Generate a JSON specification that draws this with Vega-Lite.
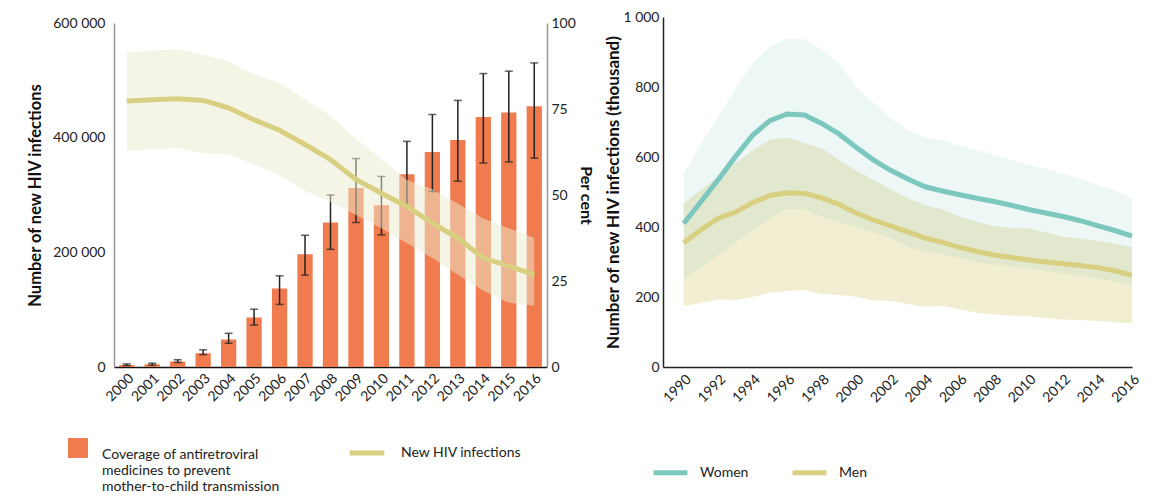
{
  "$schema": "https://vega.github.io/schema/vega-lite/v6.json",
  "background": "white",
  "padding": {"left": 27, "top": 10, "right": 10, "bottom": 0},
  "spacing": 10,
  "resolve": {"legend": {"color": "independent", "fill": "independent", "stroke": "independent"}},
  "config": {
    "font": "Lato",
    "view": {"stroke": null},
    "axis": {"labelFont": "Lato", "labelFontSize": 14, "labelColor": "#222", "titleFont": "Lato", "titleFontSize": 16.5, "titleFontWeight": "bold", "titleColor": "#111", "grid": false, "ticks": false, "domainColor": "#333", "domainWidth": 1.5},
    "legend": {"labelFont": "Lato", "labelFontSize": 14, "labelColor": "#222"}
  },
  "hconcat": [
    {
      "width": 433,
      "height": 350,
      "data": {"values": [
        {"year": "2000", "cov": 0.6, "cov_lo": 0.4, "cov_hi": 0.9, "inf": 464000, "inf_lo": 377000, "inf_hi": 548000},
        {"year": "2001", "cov": 0.8, "cov_lo": 0.5, "cov_hi": 1.1, "inf": 466000, "inf_lo": 380000, "inf_hi": 552000},
        {"year": "2002", "cov": 1.6, "cov_lo": 1.3, "cov_hi": 2.1, "inf": 468000, "inf_lo": 382000, "inf_hi": 554000},
        {"year": "2003", "cov": 4, "cov_lo": 3.6, "cov_hi": 5, "inf": 465000, "inf_lo": 373000, "inf_hi": 545000},
        {"year": "2004", "cov": 8, "cov_lo": 6.9, "cov_hi": 9.8, "inf": 452000, "inf_lo": 371000, "inf_hi": 533000},
        {"year": "2005", "cov": 14.4, "cov_lo": 12.2, "cov_hi": 16.8, "inf": 431000, "inf_lo": 353000, "inf_hi": 510000},
        {"year": "2006", "cov": 22.8, "cov_lo": 18.2, "cov_hi": 26.5, "inf": 413000, "inf_lo": 334000, "inf_hi": 496000},
        {"year": "2007", "cov": 32.8, "cov_lo": 26.7, "cov_hi": 38.3, "inf": 388000, "inf_lo": 308000, "inf_hi": 467000},
        {"year": "2008", "cov": 42, "cov_lo": 34.2, "cov_hi": 50, "inf": 362000, "inf_lo": 288000, "inf_hi": 438000},
        {"year": "2009", "cov": 52, "cov_lo": 42, "cov_hi": 60.6, "inf": 327000, "inf_lo": 265000, "inf_hi": 398000},
        {"year": "2010", "cov": 47, "cov_lo": 38.4, "cov_hi": 55.4, "inf": 303000, "inf_lo": 242000, "inf_hi": 363000},
        {"year": "2011", "cov": 56, "cov_lo": 46.7, "cov_hi": 65.6, "inf": 280000, "inf_lo": 216000, "inf_hi": 326000},
        {"year": "2012", "cov": 62.5, "cov_lo": 51, "cov_hi": 73.4, "inf": 251000, "inf_lo": 190000, "inf_hi": 310000},
        {"year": "2013", "cov": 66, "cov_lo": 54, "cov_hi": 77.5, "inf": 225000, "inf_lo": 161000, "inf_hi": 285000},
        {"year": "2014", "cov": 72.7, "cov_lo": 59.3, "cov_hi": 85.3, "inf": 190000, "inf_lo": 133000, "inf_hi": 259000},
        {"year": "2015", "cov": 74, "cov_lo": 59.6, "cov_hi": 86, "inf": 176000, "inf_lo": 112000, "inf_hi": 242000},
        {"year": "2016", "cov": 75.8, "cov_lo": 60.7, "cov_hi": 88.4, "inf": 161000, "inf_lo": 107000, "inf_hi": 225000}
      ]},
      "encoding": {
        "x": {"field": "year", "type": "ordinal", "scale": {"paddingInner": 0.4, "paddingOuter": 0.2},
              "axis": {"title": null, "labelAngle": -45, "domainColor": "#111", "labelPadding": 4}}
      },
      "layer": [
        {
          "layer": [
            {
              "mark": {"type": "bar", "color": "#f07b4f"},
              "encoding": {
                "y": {"field": "cov", "type": "quantitative", "title": "Per cent", "scale": {"domain": [0, 100], "range": [350, 6]},
                      "axis": {"orient": "right", "titleAngle": 90, "titleFontSize": 16, "values": [0, 25, 50, 75, 100], "domainColor": "#999", "labelPadding": 4, "titlePadding": 2}},
                "fill": {"datum": "Coverage of antiretroviral|medicines to prevent|mother-to-child transmission", "type": "nominal",
                         "scale": {"range": ["#f07b4f"]},
                         "legend": {"orient": "none", "legendX": -46, "legendY": 421, "title": null, "symbolType": "square", "symbolSize": 400, "symbolStrokeWidth": 0, "labelExpr": "split(datum.label, '|')", "labelBaseline": "top", "labelOffset": 14, "labelLimit": 400}}
              }
            },
            {
              "mark": {"type": "rule", "color": "#222", "strokeWidth": 1.5},
              "encoding": {"y": {"field": "cov_lo", "type": "quantitative", "title": "Per cent"}, "y2": {"field": "cov_hi"}}
            },
            {
              "mark": {"type": "tick", "color": "#222", "thickness": 1.5, "size": 8},
              "encoding": {"y": {"field": "cov_lo", "type": "quantitative", "title": "Per cent"}}
            },
            {
              "mark": {"type": "tick", "color": "#222", "thickness": 1.5, "size": 8},
              "encoding": {"y": {"field": "cov_hi", "type": "quantitative", "title": "Per cent"}}
            }
          ]
        },
        {
          "layer": [
            {
              "mark": {"type": "area", "color": "#ecebd0", "opacity": 0.5},
              "encoding": {
                "y": {"field": "inf_lo", "type": "quantitative", "title": "Number of new HIV infections", "scale": {"domain": [0, 600000], "range": [350, 6]},
                      "axis": {"orient": "left", "values": [0, 200000, 400000, 600000], "labelExpr": "replace(format(datum.value, ','), ',', ' ')", "domainColor": "#999", "labelPadding": 9, "titlePadding": 9}},
                "y2": {"field": "inf_hi"}
              }
            },
            {
              "mark": {"type": "line", "strokeWidth": 5},
              "encoding": {
                "y": {"field": "inf", "type": "quantitative", "title": "Number of new HIV infections"},
                "stroke": {"datum": "New HIV infections", "type": "nominal", "scale": {"range": ["#d8cf80"]},
                           "legend": {"orient": "none", "legendX": 233, "legendY": 416, "title": null, "symbolType": "stroke", "symbolSize": 1200, "symbolStrokeWidth": 5, "labelOffset": 14}}
              }
            }
          ]
        }
      ],
      "resolve": {"scale": {"y": "independent"}}
    },
    {
      "width": 469,
      "height": 350,
      "data": {"values": [
        {"year": 1990, "sex": "Women", "value": 410, "lo": 253, "hi": 553},
        {"year": 1991, "sex": "Women", "value": 472, "lo": 287, "hi": 636},
        {"year": 1992, "sex": "Women", "value": 535, "lo": 320, "hi": 715},
        {"year": 1993, "sex": "Women", "value": 601, "lo": 355, "hi": 796},
        {"year": 1994, "sex": "Women", "value": 662, "lo": 390, "hi": 868},
        {"year": 1995, "sex": "Women", "value": 704, "lo": 425, "hi": 915},
        {"year": 1996, "sex": "Women", "value": 723, "lo": 452, "hi": 939},
        {"year": 1997, "sex": "Women", "value": 720, "lo": 450, "hi": 936},
        {"year": 1998, "sex": "Women", "value": 696, "lo": 430, "hi": 908},
        {"year": 1999, "sex": "Women", "value": 666, "lo": 415, "hi": 868},
        {"year": 2000, "sex": "Women", "value": 628, "lo": 401, "hi": 801},
        {"year": 2001, "sex": "Women", "value": 592, "lo": 385, "hi": 754},
        {"year": 2002, "sex": "Women", "value": 562, "lo": 368, "hi": 711},
        {"year": 2003, "sex": "Women", "value": 537, "lo": 345, "hi": 677},
        {"year": 2004, "sex": "Women", "value": 515, "lo": 329, "hi": 656},
        {"year": 2005, "sex": "Women", "value": 503, "lo": 322, "hi": 647},
        {"year": 2006, "sex": "Women", "value": 492, "lo": 313, "hi": 632},
        {"year": 2007, "sex": "Women", "value": 482, "lo": 300, "hi": 620},
        {"year": 2008, "sex": "Women", "value": 473, "lo": 293, "hi": 606},
        {"year": 2009, "sex": "Women", "value": 462, "lo": 287, "hi": 591},
        {"year": 2010, "sex": "Women", "value": 450, "lo": 282, "hi": 577},
        {"year": 2011, "sex": "Women", "value": 440, "lo": 275, "hi": 566},
        {"year": 2012, "sex": "Women", "value": 430, "lo": 268, "hi": 553},
        {"year": 2013, "sex": "Women", "value": 418, "lo": 261, "hi": 537},
        {"year": 2014, "sex": "Women", "value": 404, "lo": 253, "hi": 520},
        {"year": 2015, "sex": "Women", "value": 390, "lo": 244, "hi": 504},
        {"year": 2016, "sex": "Women", "value": 374, "lo": 234, "hi": 482},
        {"year": 1990, "sex": "Men", "value": 355, "lo": 174, "hi": 468},
        {"year": 1991, "sex": "Men", "value": 392, "lo": 183, "hi": 506},
        {"year": 1992, "sex": "Men", "value": 425, "lo": 193, "hi": 544},
        {"year": 1993, "sex": "Men", "value": 442, "lo": 191, "hi": 582},
        {"year": 1994, "sex": "Men", "value": 470, "lo": 200, "hi": 618},
        {"year": 1995, "sex": "Men", "value": 490, "lo": 212, "hi": 650},
        {"year": 1996, "sex": "Men", "value": 498, "lo": 217, "hi": 655},
        {"year": 1997, "sex": "Men", "value": 496, "lo": 220, "hi": 640},
        {"year": 1998, "sex": "Men", "value": 483, "lo": 209, "hi": 625},
        {"year": 1999, "sex": "Men", "value": 465, "lo": 206, "hi": 592},
        {"year": 2000, "sex": "Men", "value": 440, "lo": 201, "hi": 560},
        {"year": 2001, "sex": "Men", "value": 420, "lo": 190, "hi": 534},
        {"year": 2002, "sex": "Men", "value": 403, "lo": 189, "hi": 508},
        {"year": 2003, "sex": "Men", "value": 386, "lo": 180, "hi": 482},
        {"year": 2004, "sex": "Men", "value": 368, "lo": 172, "hi": 462},
        {"year": 2005, "sex": "Men", "value": 356, "lo": 174, "hi": 450},
        {"year": 2006, "sex": "Men", "value": 342, "lo": 165, "hi": 430},
        {"year": 2007, "sex": "Men", "value": 330, "lo": 155, "hi": 414},
        {"year": 2008, "sex": "Men", "value": 320, "lo": 150, "hi": 403},
        {"year": 2009, "sex": "Men", "value": 313, "lo": 147, "hi": 397},
        {"year": 2010, "sex": "Men", "value": 306, "lo": 145, "hi": 396},
        {"year": 2011, "sex": "Men", "value": 300, "lo": 140, "hi": 384},
        {"year": 2012, "sex": "Men", "value": 295, "lo": 136, "hi": 372},
        {"year": 2013, "sex": "Men", "value": 290, "lo": 134, "hi": 367},
        {"year": 2014, "sex": "Men", "value": 284, "lo": 132, "hi": 360},
        {"year": 2015, "sex": "Men", "value": 275, "lo": 128, "hi": 352},
        {"year": 2016, "sex": "Men", "value": 262, "lo": 125, "hi": 342}
      ]},
      "encoding": {
        "x": {"field": "year", "type": "quantitative", "scale": {"domain": [1988.8, 2016], "nice": false, "zero": false},
              "axis": {"title": null, "values": [1990, 1992, 1994, 1996, 1998, 2000, 2002, 2004, 2006, 2008, 2010, 2012, 2014, 2016], "format": "d", "labelAngle": -45, "labelPadding": 5, "domainColor": "#222"}}
      },
      "layer": [
        {
          "transform": [{"filter": "datum.sex === 'Men'"}],
          "mark": {"type": "area", "color": "#d8cf80", "opacity": 0.36},
          "encoding": {
            "y": {"field": "lo", "type": "quantitative", "title": "Number of new HIV infections (thousand)", "scale": {"domain": [0, 1000]},
                  "axis": {"values": [0, 200, 400, 600, 800, 1000], "labelExpr": "replace(format(datum.value, ','), ',', ' ')", "labelPadding": 4, "titlePadding": 0, "titleFontSize": 17, "domainColor": "#222"}},
            "y2": {"field": "hi"}
          }
        },
        {
          "transform": [{"filter": "datum.sex === 'Women'"}],
          "mark": {"type": "area", "color": "#7cc8bf", "opacity": 0.14},
          "encoding": {
            "y": {"field": "lo", "type": "quantitative", "title": "Number of new HIV infections (thousand)"},
            "y2": {"field": "hi"}
          }
        },
        {
          "mark": {"type": "line", "strokeWidth": 5},
          "encoding": {
            "y": {"field": "value", "type": "quantitative", "title": "Number of new HIV infections (thousand)"},
            "color": {"field": "sex", "type": "nominal", "scale": {"domain": ["Women", "Men"], "range": ["#7cc8bf", "#d8cf80"]},
                      "legend": {"orient": "none", "direction": "horizontal", "legendX": -12, "legendY": 436, "title": null, "symbolType": "stroke", "symbolSize": 1150, "symbolStrokeWidth": 5, "labelOffset": 10, "columnPadding": 33}}
          }
        }
      ]
    }
  ]
}
